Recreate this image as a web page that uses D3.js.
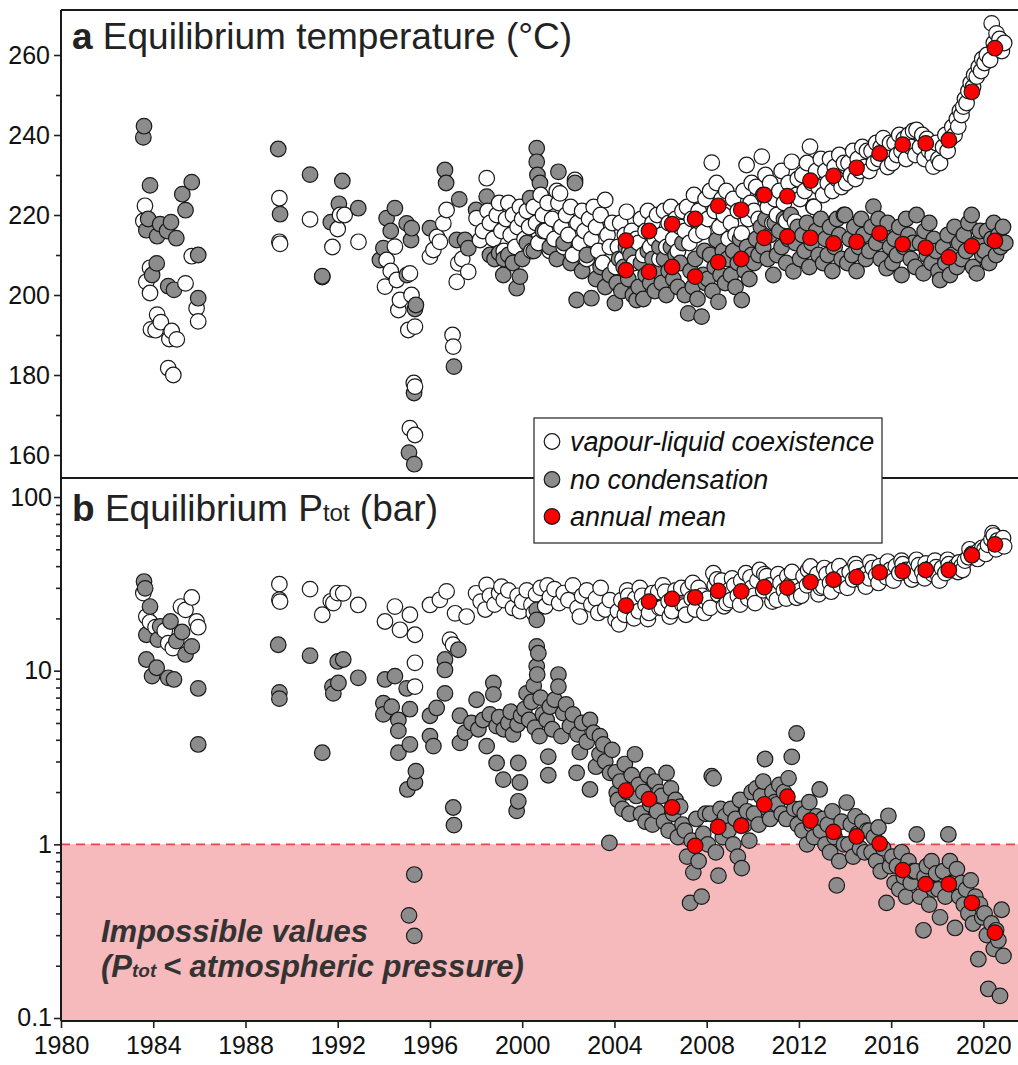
<!DOCTYPE html>
<html>
<head>
<meta charset="utf-8">
<script src="https://cdn.jsdelivr.net/npm/d3@7"></script>
<style>
    body { margin: 0; background: #fff; }
    svg { display: block; font-family: "Liberation Sans", Arial, sans-serif; }
    .axis path, .axis line { stroke: #222; }
    .axis text { fill: #111; font-size: 25px; font-family: "Liberation Sans", Arial, sans-serif; }
</style>
</head>
<body>
<svg id="chart" width="1018" height="1065"></svg>
<script>
// Panel a: equilibrium temperature (deg C), [decimal year, value]
var tempVap = [
    [1983.64,222.3],[1983.57,218.5],[1983.86,206.8],[1983.7,203.3],[1983.86,200.5],[1985.4,202.9],[1985.67,209.7],
    [1985.88,196.7],[1985.95,193.4],[1984.17,195.1],[1984.33,193.2],[1983.9,191.4],[1984.1,191.2],[1984.8,191],
    [1984.7,189],[1985.02,188.9],[1984.65,181.7],[1984.87,180.0],
    [1989.47,224.2],[1989.47,213.3],[1989.5,212.8],[1990.8,218.9],[1991.77,212],[1992.0,216.5],[1992.1,220],
    [1991.33,204.5],[1992.3,220],[1992.9,213.3],
    [1994.48,212.1],[1994.12,208.75],[1995.13,205.4],[1994.56,203.75],[1994.05,202.1],[1994.7,198.75],[1994.63,196.25],
    [1995.35,192.1],[1995.06,191.25],[1995.35,177.1],[1995.3,178],[1995.13,166.7],[1995.35,165],[1996.98,190],
    [1997.01,187.1],[1996.43,213.3],[1996.15,211.25],[1996.0,209.6],[1996.72,221.25],[1996.58,217.9],[1997.23,207.9],
    [1997.66,205.8],[1997.16,203.3],[1997.4,209],[1996.3,214.5],[1994.3,206],[1995.2,200],
    [1998.02,219.2],[1998.17,213.75],[1998.46,229.2],[1998.3,216],[1998.5,221],[1998.6,218],[1998.75,214],[1998.9,220],
    [1999.0,223],[1999.1,216],[1999.2,211],[1999.3,219],[1999.4,223],[1999.5,215],[1999.6,220],[1999.7,212],[1999.8,217],
    [1999.9,222],[2000.0,219],[2000.1,214],[2000.2,221],[2000.3,217],[2000.4,211],[2000.5,222],[2000.6,218],[2000.7,213],
    [2000.8,225],[2000.9,220],[2001.0,216],[2001.1,223],[2001.2,211],[2001.3,219],[2001.4,214],[2001.5,226],[2001.57,223],
    [2001.64,225.4],[2001.7,217],[2001.8,212],[2001.9,220],[2002.0,215],[2002.1,222],[2002.2,210],[2002.29,228.75],
    [2002.4,218],[2002.5,213],[2002.6,221],[2002.7,216],[2002.8,209],[2002.9,219],[2003.0,214],[2003.1,222],[2003.2,217],
    [2003.3,211],[2003.4,220],[2003.6,223.75],[2003.5,208],[2003.7,215],[2003.8,212],[2003.9,218],
    [2004.05,207],[2004.15,212],[2004.25,218],[2004.35,209],[2004.45,215],[2004.53,220.8],[2004.65,211],[2004.75,216],[2004.85,208],[2004.95,214],
    [2005.05,213],[2005.15,219],[2005.25,210],[2005.35,216],[2005.45,221],[2005.55,212],[2005.65,218],[2005.75,214],[2005.85,220],[2005.95,209],
    [2006.05,215],[2006.15,221],[2006.25,212],[2006.35,218],[2006.45,222],[2006.55,214],[2006.65,219],[2006.75,211],[2006.85,217],[2006.95,221],
    [2007.05,216],[2007.15,222],[2007.25,213],[2007.35,219],[2007.45,225],[2007.55,215],[2007.65,221],[2007.75,218],[2007.86,215.8],[2007.95,224],
    [2008.05,219],[2008.15,226],[2008.22,233.1],[2008.35,221],[2008.43,228],[2008.55,217],[2008.65,224],[2008.75,220],[2008.85,226],[2008.95,214],
    [2009.05,218],[2009.15,224],[2009.25,215],[2009.35,221],[2009.52,215.4],[2009.6,226],[2009.73,232.5],[2009.8,219],[2009.9,223],[2009.95,228],
    [2010.05,221],[2010.15,227],[2010.25,219],[2010.39,234.6],[2010.45,225],[2010.55,230],[2010.65,222],[2010.75,228],[2010.85,218],[2010.95,224],
    [2011.05,220],[2011.15,226],[2011.25,231],[2011.35,223],[2011.45,218.5],[2011.55,228],[2011.69,233.3],[2011.83,218.3],[2011.9,225],[2011.95,229],
    [2012.05,224],[2012.15,230],[2012.25,226],[2012.35,233],[2012.48,237.1],[2012.55,228],[2012.65,222],[2012.75,231],[2012.85,227],[2012.95,234],
    [2013.05,225],[2013.15,231],[2013.25,228],[2013.35,234],[2013.45,226],[2013.55,232],[2013.65,229],[2013.75,235],[2013.85,227],[2013.95,233],
    [2014.05,228],[2014.15,233],[2014.25,230],[2014.35,236],[2014.45,229],[2014.55,234],[2014.65,231],[2014.75,237],[2014.85,232],[2014.95,236],
    [2015.05,231],[2015.15,236],[2015.25,233],[2015.35,238],[2015.45,234],[2015.55,237],[2015.66,239.2],[2015.75,235],[2015.85,232],[2015.95,238],
    [2016.05,233],[2016.15,238],[2016.25,235],[2016.35,240],[2016.45,236],[2016.55,239],[2016.65,234],[2016.75,240],[2016.85,237],[2016.95,241],
    [2017.05,235],[2017.1,241.25],[2017.25,237],[2017.35,240],[2017.45,234],[2017.55,239],[2017.65,236],[2017.8,235],[2017.83,232.1],[2017.95,238],
    [2018.05,234],[2018.12,233],[2018.25,237],[2018.35,240],[2018.45,236],[2018.55,239],[2018.65,242],[2018.75,240],[2018.85,244],[2018.91,242.1],[2018.98,246],
    [2019.05,245],[2019.13,247.1],[2019.2,249],[2019.27,248],[2019.35,251],[2019.45,253],[2019.55,252],[2019.6,255],[2019.71,254.6],[2019.8,257],[2019.9,256],[2019.95,259],
    [2020.05,258],[2020.15,260],[2020.29,258.75],[2020.36,267.9],[2020.45,263],[2020.57,265.4],[2020.6,262],[2020.7,264],[2020.8,261],[2020.9,263]
];

var tempDry = [
    [1983.6,242.2],[1983.57,239.4],[1983.86,227.4],[1985.67,228.2],[1985.26,225.2],[1985.4,221.2],[1983.78,219],
    [1984.3,217.7],[1984.77,218.2],[1983.7,216.2],[1984.17,214.7],[1985.0,214.2],[1984.6,216],[1985.95,210],
    [1984.15,207.9],[1983.95,205],[1984.65,202.2],[1984.9,201.3],[1985.95,199.2],
    [1989.42,236.5],[1990.8,230.1],[1992.2,228.5],[1989.5,220.2],[1991.7,218.2],[1992.05,222.8],[1991.33,204.7],[1992.89,221.7],
    [1994.48,221.7],[1994.12,219.2],[1994.99,217.9],[1995.21,216.7],[1995.18,213.75],[1993.98,211.7],[1993.83,208.75],
    [1995.39,197.5],[1995.35,196.5],[1995.31,175.5],[1995.09,160.6],[1995.32,157.7],[1997.04,182.1],[1996.65,231.25],
    [1996.7,228],[1997.27,223.9],[1996.0,216.7],[1997.52,213.75],[1997.66,211.7],[1997.16,213.75],[1994.3,216],[1995.0,205],
    [1998.0,221.25],[1998.46,224.6],[1998.6,210],[1998.8,209],[1999.0,210.5],[1999.2,209],[1999.18,205],[1999.4,210],
    [1999.6,208],[1999.76,201.7],[1999.9,204.6],[2000.0,209],[2000.34,224.2],[2000.63,236.7],[2000.63,233.3],[2000.66,230],
    [2000.77,228],[2001.57,230.8],[2002.29,228],[2000.2,213],[2000.5,211],[2000.9,216],[2001.2,212],[2001.5,209],
    [2001.8,213],[2002.1,208],[2002.36,198.75],[2002.6,206],[2002.8,210],[2003.0,199.2],[2003.2,204],[2003.4,207],
    [2003.6,202],[2003.8,205],
    [2004.02,198],[2004.1,203],[2004.2,209],[2004.3,201],[2004.4,207],[2004.5,212],[2004.6,204],[2004.7,210],[2004.8,200],[2004.96,198.75],
    [2005.05,202],[2005.15,208],[2005.25,199],[2005.35,205],[2005.45,211],[2005.55,203],[2005.65,209],[2005.75,201],[2005.85,206],[2005.95,212],
    [2006.05,203],[2006.15,209],[2006.25,200],[2006.35,206],[2006.45,212],[2006.55,204],[2006.65,210],[2006.75,202],[2006.85,208],[2006.95,213],
    [2007.05,200],[2007.2,195.4],[2007.3,206],[2007.4,202],[2007.5,209],[2007.6,199],[2007.78,194.6],[2007.85,205],[2007.9,211],[2007.95,203],
    [2008.05,204],[2008.15,210],[2008.25,201],[2008.35,207],[2008.43,213.75],[2008.51,198.3],[2008.6,205],[2008.7,211],[2008.8,203],[2008.9,209],
    [2009.05,205],[2009.15,211],[2009.25,202],[2009.35,208],[2009.45,214],[2009.52,198.75],[2009.65,206],[2009.75,212],[2009.85,204],[2009.95,210],
    [2010.05,208],[2010.15,214],[2010.25,210],[2010.35,217],[2010.45,212],[2010.55,219],[2010.65,209],[2010.75,215],[2010.89,205],[2010.95,218],
    [2011.05,210],[2011.15,216],[2011.25,212],[2011.35,219],[2011.45,208],[2011.55,214],[2011.65,220],[2011.76,205.9],[2011.85,213],[2011.95,217],
    [2012.05,209],[2012.15,215],[2012.25,211],[2012.35,218],[2012.45,207],[2012.55,213],[2012.62,222.1],[2012.75,216],[2012.85,210],[2012.95,219],
    [2013.05,208],[2013.15,214],[2013.25,210],[2013.35,217],[2013.45,206],[2013.55,212],[2013.65,219],[2013.75,215],[2013.85,209],[2013.95,220],
    [2014.0,220],[2014.1,208],[2014.2,214],[2014.3,210],[2014.4,217],[2014.5,206],[2014.6,212],[2014.7,219],[2014.8,215],[2014.9,209],
    [2015.05,211],[2015.15,217],[2015.23,222.1],[2015.35,213],[2015.45,219],[2015.55,209],[2015.65,215],[2015.8,206.7],[2015.85,218],[2015.95,212],
    [2016.05,208],[2016.15,214],[2016.25,210],[2016.35,217],[2016.45,205],[2016.55,212],[2016.65,219],[2016.75,215],[2016.85,209],[2016.95,213],
    [2017.05,207],[2017.1,220],[2017.25,213],[2017.4,205.4],[2017.45,216],[2017.55,210],[2017.65,218],[2017.75,208],[2017.85,214],[2017.95,211],
    [2018.05,206],[2018.12,203.75],[2018.25,212],[2018.35,208],[2018.45,215],[2018.55,205],[2018.65,210],[2018.75,217],[2018.85,207],[2018.95,213],
    [2019.05,209],[2019.15,215],[2019.25,211],[2019.35,218],[2019.49,220],[2019.55,207],[2019.71,205.4],[2019.75,213],[2019.85,216],[2019.95,210],
    [2020.05,211],[2020.15,216],[2020.25,208],[2020.35,214],[2020.45,218],[2020.55,210],[2020.65,215],[2020.75,212],[2020.85,217],[2020.95,213]
];

// Panel b: equilibrium total pressure (bar)
var presVap = [
    [1983.57,28],[1983.7,20.5],[1983.86,19],[1984.5,17],[1984.65,14.4],[1984.85,13.5],[1985.2,23.4],[1985.4,22.4],
    [1985.67,26.4],[1985.88,19.2],[1985.95,17.8],[1984.1,17.8],
    [1989.47,31.5],[1989.47,25.6],[1989.5,25],[1990.8,29.5],[1991.33,21],[1991.7,25.1],[1992.0,28],[1992.24,27.9],
    [1991.81,24.5],[1992.89,23.9],
    [1994.05,19.2],[1994.48,23.4],[1994.7,17.2],[1995.13,21],[1995.35,16.1],[1995.35,11.1],[1995.35,8.1],
    [1996.0,23.9],[1996.43,25.6],[1996.72,28.6],[1997.09,21.4],[1997.59,20.5],[1996.87,15.1],[1997.0,14.1],
    [1998.0,27.9],[1998.2,25],[1998.46,31.2],[1998.6,27],[1998.8,24],[1999.0,28],[1999.2,25.5],[1999.4,29],[1999.6,23],
    [1999.8,27],[2000.0,25],[2000.2,29],[2000.4,24],[2000.6,27.5],[2000.8,30],[2001.0,23.5],[2001.2,26.5],[2001.4,29.5],
    [2001.6,24.5],[2001.8,28],[2002.0,25.5],[2002.2,31],[2002.4,23],[2002.6,27],[2002.8,29],[2003.0,24],[2003.2,26],
    [2003.4,30],[2003.6,22.5],[2003.8,25.5],[1998.4,22.5],[1999.1,30.5],[1999.9,22],[2000.5,21.5],[2001.1,31],
    [2002.5,20.5],[2003.3,21.5],
    [2004.05,19.6],[2004.15,22],[2004.3,25.5],[2004.45,21],[2004.6,27],[2004.75,23],[2004.9,26],
    [2004.2,18.5],[2004.55,29],[2004.85,20],
    [2005.05,22],[2005.2,27],[2005.35,24],[2005.5,21.5],[2005.65,28],[2005.8,25.5],[2005.95,23],
    [2005.1,30],[2005.45,19.8],[2005.9,28.5],
    [2006.05,23],[2006.2,28.5],[2006.35,25],[2006.5,22],[2006.65,29],[2006.8,26.5],[2006.95,24],
    [2006.1,31],[2006.4,20.5],[2006.9,30],
    [2007.05,23.5],[2007.2,29.5],[2007.35,26],[2007.5,22.5],[2007.65,30],[2007.8,27],[2007.95,25],
    [2007.1,21],[2007.4,32],[2007.9,21.5],
    [2008.05,26],[2008.29,36.4],[2008.35,31],[2008.5,27.5],[2008.65,33],[2008.87,24.5],[2008.95,29],
    [2008.15,23],[2008.45,33.5],[2008.75,23.5],
    [2009.05,25.5],[2009.2,31],[2009.35,27],[2009.5,33],[2009.7,36.4],[2009.8,26],[2009.95,30],
    [2009.1,34],[2009.45,24],[2009.9,34.5],
    [2010.05,27],[2010.2,33],[2010.3,38],[2010.45,29],[2010.6,35],[2010.75,31],[2010.9,27.5],
    [2010.1,24.5],[2010.5,36],[2010.85,25],
    [2011.04,25.6],[2011.2,32],[2011.35,29],[2011.5,35],[2011.65,31.5],[2011.8,28],[2011.9,26.3],
    [2011.1,36],[2011.45,26],[2011.7,37],
    [2012.05,29],[2012.2,35],[2012.35,31],[2012.5,39.8],[2012.65,33],[2012.8,36],[2012.95,30],
    [2012.1,27],[2012.4,38],[2012.85,27.5],
    [2013.05,30.5],[2013.2,36],[2013.35,32],[2013.5,38],[2013.65,34],[2013.8,31],[2013.95,35.5],
    [2013.1,39],[2013.4,28.5],[2013.75,40],
    [2014.05,32],[2014.2,37],[2014.35,33.5],[2014.5,39],[2014.65,35],[2014.8,32.5],[2014.95,36.5],
    [2014.1,30],[2014.45,41],[2014.9,30.5],
    [2015.05,34],[2015.2,39],[2015.35,35.5],[2015.5,40],[2015.65,37],[2015.8,34.5],[2015.95,38],
    [2015.1,42],[2015.45,32],[2015.85,42.5],
    [2016.05,35],[2016.2,40],[2016.35,36.5],[2016.5,41],[2016.65,38],[2016.8,35.5],[2016.95,39],
    [2016.1,33],[2016.45,43],[2016.9,33.5],
    [2017.05,35.5],[2017.2,40.5],[2017.35,37],[2017.5,41.5],[2017.65,38.5],[2017.8,36],[2017.95,39.5],
    [2017.1,43.5],[2017.45,34],[2017.9,43],
    [2018.05,35],[2018.2,39],[2018.35,36.5],[2018.5,41],[2018.65,38],[2018.8,40],[2018.95,42],
    [2018.1,33],[2018.45,43.5],[2018.9,37],
    [2019.05,40],[2019.2,43],[2019.35,45],[2019.5,47],[2019.65,46],[2019.8,49],[2019.95,51],
    [2019.1,38],[2019.4,50],[2019.75,44],
    [2020.05,50],[2020.2,53],[2020.35,57],[2020.45,60],[2020.6,56],[2020.75,55],[2020.9,52],
    [2020.1,47],[2020.4,62],[2020.55,50],[2020.85,58]
];

var presDry = [
    [1983.6,32.6],[1983.65,29.8],[1983.86,23.4],[1983.7,16.1],[1984.2,15.1],[1984.3,18],[1984.75,19.2],[1985.25,16.7],
    [1985.0,14.8],[1985.67,13.8],[1985.4,12.4],[1983.7,11.6],[1984.15,10.4],[1983.95,9.3],[1984.65,9.1],[1984.9,8.9],
    [1985.95,7.9],[1985.95,3.76],
    [1989.42,14.1],[1990.8,12.2],[1989.47,7.5],[1989.47,6.9],[1991.33,3.37],[1991.77,8.1],[1992.0,11.3],
    [1992.24,11.6],[1992.03,8.5],[1992.89,9.1],[1991.81,7.4],
    [1994.05,8.9],[1994.48,9.3],[1994.99,7.9],[1993.98,6.5],[1993.98,5.6],[1994.34,6.2],[1994.63,5.2],[1994.63,4.5],
    [1995.13,6.0],[1995.13,3.76],[1994.63,3.37],[1995.39,2.64],[1995.35,2.27],[1995.02,2.07],[1995.32,0.67],
    [1995.09,0.39],[1995.32,0.297],[1996.65,11.6],[1997.23,13.2],[1996.65,10.1],[1996.65,7.4],[1996.0,5.5],
    [1996.15,3.68],[1996.0,4.2],[1996.29,6.1],[1997.3,5.5],[1997.52,4.4],[1997.3,3.84],[1997.01,1.63],[1997.04,1.29],
    [1998.02,6.8],[1998.75,8.5],[1998.75,7.3],[1998.3,5.2],[1998.89,4.8],[1998.46,3.68],[1998.89,2.94],[1999.18,2.36],
    [1999.83,2.94],[1999.9,2.27],[1999.83,1.77],[1999.76,1.56],[1999.0,5.4],[1999.2,4.6],[1999.4,5.0],[1999.6,4.3],
    [1999.5,5.8],[1999.8,4.9],[1999.95,5.5],[1998.6,5.6],[1998.1,4.6],[1997.8,5.0],
    [2000.63,22.4],[2000.63,19.6],[2000.63,13.8],[2000.7,12.6],[2000.63,10.6],[2000.65,9.5],[2000.19,7.4],
    [2000.1,6.0],[2000.3,5.2],[2000.4,6.6],[2000.5,8.2],[2000.8,7.0],[2000.9,5.6],[2000.55,4.7],[2000.75,4.2],
    [2001.57,9.5],[2001.57,8.1],[2001.2,6.2],[2001.06,5.2],[2001.13,3.2],[2001.13,2.5],[2001.78,5.7],[2001.4,6.8],
    [2001.3,4.6],[2001.7,4.2],[2001.9,6.4],[2002.07,4.8],[2002.2,5.6],[2002.4,4.3],[2002.6,5.0],[2002.94,5.2],
    [2002.8,3.9],[2002.5,3.4],[2003.52,3.76],[2002.36,2.58],[2002.94,2.07],[2003.2,2.8],[2003.81,2.58],
    [2003.78,1.02],[2004.1,1.98],[2003.1,4.4],[2003.35,3.3],[2003.6,3.0],[2003.9,3.5],[2003.37,4.2],
    [2004.05,2.6],[2004.15,1.8],[2004.25,2.3],[2004.35,1.6],[2004.45,2.9],[2004.55,2.0],[2004.65,1.5],[2004.75,2.5],[2004.89,3.3],[2004.95,1.9],
    [2005.05,2.2],[2005.15,1.5],[2005.25,2.0],[2005.35,1.35],[2005.45,2.5],[2005.55,1.7],[2005.65,1.3],[2005.75,2.3],[2005.85,1.55],[2005.95,2.0],
    [2006.05,1.9],[2006.15,1.35],[2006.26,2.58],[2006.35,1.2],[2006.45,2.1],[2006.55,1.5],[2006.65,1.8],[2006.75,1.1],[2006.85,1.65],[2006.95,1.3],
    [2007.05,1.2],[2007.15,0.85],[2007.28,0.46],[2007.35,1.05],[2007.42,0.69],[2007.55,1.4],[2007.65,0.8],[2007.78,0.5],[2007.85,1.15],[2007.95,1.5],
    [2008.05,1.0],[2008.15,1.5],[2008.22,2.47],[2008.3,2.4],[2008.4,0.9],[2008.51,0.66],[2008.6,1.6],[2008.7,1.1],[2008.8,1.45],[2008.95,1.2],
    [2009.05,1.6],[2009.15,1.0],[2009.25,1.4],[2009.35,0.85],[2009.45,1.8],[2009.52,0.73],[2009.65,1.3],[2009.75,1.55],[2009.85,1.05],[2009.95,2.0],
    [2010.05,1.5],[2010.15,2.1],[2010.25,1.3],[2010.35,1.9],[2010.45,2.3],[2010.53,3.1],[2010.65,1.6],[2010.75,1.4],[2010.85,2.0],[2010.95,1.75],
    [2011.05,1.7],[2011.15,2.2],[2011.25,1.5],[2011.35,2.0],[2011.45,1.4],[2011.55,2.4],[2011.69,3.19],[2011.8,1.6],[2011.9,4.35],[2011.95,1.3],
    [2012.05,1.6],[2012.15,1.2],[2012.25,1.5],[2012.35,1.0],[2012.45,1.75],[2012.55,1.3],[2012.65,1.1],[2012.75,1.45],[2012.9,2.07],[2012.95,1.2],
    [2013.05,1.4],[2013.15,1.0],[2013.25,1.3],[2013.35,0.9],[2013.45,1.55],[2013.55,1.1],[2013.64,0.58],[2013.75,0.8],[2013.85,1.35],[2013.95,1.0],
    [2014.07,1.74],[2014.15,1.0],[2014.25,1.3],[2014.35,0.85],[2014.45,1.45],[2014.55,1.15],[2014.65,0.95],[2014.75,1.35],[2014.85,0.9],[2014.95,1.2],
    [2015.05,1.2],[2015.15,0.9],[2015.25,1.1],[2015.35,0.8],[2015.45,1.25],[2015.55,0.7],[2015.65,0.95],[2015.8,0.46],[2015.88,1.46],[2015.95,0.75],
    [2016.05,0.85],[2016.15,0.6],[2016.25,0.75],[2016.35,0.55],[2016.45,0.9],[2016.55,0.65],[2016.65,0.5],[2016.75,0.8],[2016.85,0.6],[2016.95,0.7],
    [2017.05,0.7],[2017.11,1.14],[2017.25,0.5],[2017.4,0.32],[2017.45,0.65],[2017.55,0.75],[2017.65,0.45],[2017.75,0.8],[2017.85,0.55],[2017.95,0.68],
    [2018.05,0.55],[2018.12,0.38],[2018.25,0.7],[2018.35,0.5],[2018.48,1.14],[2018.55,0.8],[2018.65,0.6],[2018.77,0.33],[2018.85,0.72],[2018.95,0.5],
    [2019.05,0.6],[2019.15,0.45],[2019.25,0.55],[2019.35,0.4],[2019.45,0.62],[2019.55,0.35],[2019.65,0.5],[2019.78,0.218],[2019.85,0.45],[2019.95,0.38],
    [2020.05,0.4],[2020.15,0.3],[2020.21,0.147],[2020.35,0.35],[2020.45,0.25],[2020.55,0.32],[2020.65,0.28],[2020.72,0.134],[2020.79,0.42],[2020.87,0.228]
];

// Annual means, plotted mid-year
var meanYears = [2004.5,2005.5,2006.5,2007.5,2008.5,2009.5,2010.5,2011.5,2012.5,2013.5,2014.5,2015.5,2016.5,2017.5,2018.5,2019.5,2020.5];
var meanTempVap = [213.6,216.0,217.7,219.0,222.3,221.3,225.0,224.7,228.6,229.8,231.8,235.4,237.6,237.9,238.7,250.8,261.7];
var meanTempDry = [206.2,205.8,207.0,204.6,208.2,209.0,214.3,214.6,214.3,212.9,213.3,215.4,212.7,211.8,209.4,212.2,213.5];
var meanPresVap = [23.7,25.0,25.9,26.4,28.8,28.6,30.3,30.1,32.4,33.4,34.6,36.8,37.4,38.0,38.0,46.2,53.4];
var meanPresDry = [2.04,1.82,1.63,0.98,1.26,1.28,1.70,1.88,1.37,1.18,1.11,1.01,0.71,0.59,0.59,0.46,0.31];

var xTicks = [1980,1984,1988,1992,1996,2000,2004,2008,2012,2016,2020];
var tempTicks = [160,180,200,220,240,260];
var tempMinor = [170,190,210,230,250];
var presTicks = [0.1,1,10,100];

var legendItems = [
    { label: "vapour-liquid coexistence", kind: "vap" },
    { label: "no condensation", kind: "dry" },
    { label: "annual mean", kind: "mean" }
];

var fills = { vap: "#ffffff", dry: "#8c8c8c", mean: "#ff0000" };
var R = 7.8;

var svg = d3.select("#chart");
var plotLeft = 61, plotRight = 1018, plotTop = 10, plotMid = 478, plotBottom = 1021;

var x = d3.scaleLinear().domain([1980, 2021.5]).range([plotLeft, plotRight]);
var yT = d3.scaleLinear().domain([154.25, 271.25]).range([plotMid, plotTop]);
var yP = d3.scaleLog().domain([0.0961, 128.7]).range([plotBottom, plotMid]);

var defs = svg.append("defs");
defs.append("clipPath").attr("id", "clip-a")
    .append("rect").attr("x", plotLeft).attr("y", plotTop).attr("width", plotRight - plotLeft).attr("height", plotMid - plotTop);
defs.append("clipPath").attr("id", "clip-b")
    .append("rect").attr("x", plotLeft).attr("y", plotMid).attr("width", plotRight - plotLeft).attr("height", plotBottom - plotMid);

// Impossible region (Ptot < 1 bar)
svg.append("rect")
    .attr("x", plotLeft)
    .attr("y", yP(1))
    .attr("width", plotRight - plotLeft)
    .attr("height", plotBottom - yP(1))
    .style("fill", "#f6b9bc");

svg.append("line")
    .attr("x1", plotLeft).attr("x2", plotRight)
    .attr("y1", yP(1)).attr("y2", yP(1))
    .style("stroke", "#e8434e")
    .style("stroke-width", 1.6)
    .style("stroke-dasharray", "9,6");

svg.append("text")
    .attr("x", 101)
    .attr("y", 942)
    .style("font-size", "31px")
    .style("font-weight", "bold")
    .style("font-style", "italic")
    .style("fill", "#333")
    .text("Impossible values");
var imp2 = svg.append("text")
    .attr("x", 101)
    .attr("y", 977)
    .style("font-size", "31px")
    .style("font-weight", "bold")
    .style("font-style", "italic")
    .style("fill", "#333");
imp2.append("tspan").text("(P");
imp2.append("tspan").style("font-size", "19px").text("tot");
imp2.append("tspan").attr("dx", -2).text(" < atmospheric pressure)");

// Merge both statuses in time order so overlaps look like the original
function merged(vap, dry) {
    return vap.map(function(d) { return [d[0], d[1], "vap"] })
        .concat(dry.map(function(d) { return [d[0], d[1], "dry"] }))
        .sort(function(a, b) { return a[0] - b[0] });
}

function drawPoints(clip, pts, y) {
    svg.append("g")
        .attr("clip-path", "url(#" + clip + ")")
        .selectAll("circle")
        .data(pts)
        .enter()
        .append("circle")
            .attr("cx", function(d) { return x(d[0]) })
            .attr("cy", function(d) { return y(d[1]) })
            .attr("r", R)
            .style("fill", function(d) { return fills[d[2]] })
            .style("stroke", "#1a1a1a")
            .style("stroke-width", 1.2);
}

function drawMeans(clip, values, y) {
    svg.append("g")
        .attr("clip-path", "url(#" + clip + ")")
        .selectAll("circle")
        .data(values)
        .enter()
        .append("circle")
            .attr("cx", function(d, i) { return x(meanYears[i]) })
            .attr("cy", function(d) { return y(d) })
            .attr("r", R)
            .style("fill", fills.mean)
            .style("stroke", "#1a1a1a")
            .style("stroke-width", 1.2);
}

drawPoints("clip-a", merged(tempVap, tempDry), yT);
drawMeans("clip-a", meanTempVap, yT);
drawMeans("clip-a", meanTempDry, yT);

drawPoints("clip-b", merged(presVap, presDry), yP);
drawMeans("clip-b", meanPresVap, yP);
drawMeans("clip-b", meanPresDry, yP);

// Axes
svg.append("g")
    .attr("class", "axis")
    .attr("transform", "translate(" + plotLeft + ",0)")
    .call(d3.axisLeft(yT).tickValues(tempMinor).tickSize(5).tickFormat(""))
    .call(function(g) { g.select(".domain").remove() });

svg.append("g")
    .attr("class", "axis")
    .attr("transform", "translate(" + plotLeft + ",0)")
    .call(d3.axisLeft(yT).tickValues(tempTicks).tickSize(7).tickPadding(4).tickFormat(d3.format("d")))
    .call(function(g) { g.select(".domain").remove() });

var presMinor = yP.ticks().filter(function(v) { return presTicks.indexOf(v) < 0 });
svg.append("g")
    .attr("class", "axis")
    .attr("transform", "translate(" + plotLeft + ",0)")
    .call(d3.axisLeft(yP).tickValues(presMinor).tickSize(5).tickFormat(""))
    .call(function(g) { g.select(".domain").remove() });

svg.append("g")
    .attr("class", "axis")
    .attr("transform", "translate(" + plotLeft + ",0)")
    .call(d3.axisLeft(yP).tickValues(presTicks).tickSize(7).tickPadding(2).tickFormat(function(d) { return d < 1 ? "0.1" : d3.format("d")(d) }))
    .call(function(g) { g.select(".domain").remove() });

svg.append("g")
    .attr("class", "axis")
    .attr("transform", "translate(0," + plotBottom + ")")
    .call(d3.axisBottom(x).tickValues(xTicks).tickSize(7).tickPadding(8).tickFormat(d3.format("d")))
    .call(function(g) { g.select(".domain").remove() });

svg.selectAll(".axis line").style("stroke-width", 1.6);

// Frame lines
var frame = [
    [plotLeft, plotTop, plotRight, plotTop],
    [plotLeft, plotMid, plotRight, plotMid],
    [plotLeft, plotBottom, plotRight, plotBottom],
    [plotLeft, plotTop, plotLeft, plotBottom]
];
svg.selectAll(".frame")
    .data(frame)
    .enter()
    .append("line")
        .attr("class", "frame")
        .attr("x1", function(d) { return d[0] })
        .attr("y1", function(d) { return d[1] })
        .attr("x2", function(d) { return d[2] })
        .attr("y2", function(d) { return d[3] })
        .style("stroke", "#1a1a1a")
        .style("stroke-width", 2);

// Panel titles
var titleA = svg.append("text")
    .attr("x", 72)
    .attr("y", 49)
    .style("font-size", "37px")
    .style("fill", "#222");
titleA.append("tspan").style("font-weight", "bold").text("a");
titleA.append("tspan").text(" Equilibrium temperature (°C)");

var titleB = svg.append("text")
    .attr("x", 72)
    .attr("y", 521)
    .style("font-size", "37px")
    .style("fill", "#222");
titleB.append("tspan").style("font-weight", "bold").text("b");
titleB.append("tspan").text(" Equilibrium P");
titleB.append("tspan").style("font-size", "24px").text("tot");
titleB.append("tspan").text(" (bar)");

// Legend
var legend = svg.append("g").attr("transform", "translate(534,418)");
legend.append("rect")
    .attr("width", 348)
    .attr("height", 125)
    .style("fill", "#fff")
    .style("stroke", "#333")
    .style("stroke-width", 1.3);

var items = legend.selectAll(".legend-item")
    .data(legendItems)
    .enter()
    .append("g")
        .attr("transform", function(d, i) { return "translate(0," + [23.5, 61.5, 98.5][i] + ")" });

items.append("circle")
    .attr("cx", 18)
    .attr("r", R)
    .style("fill", function(d) { return fills[d.kind] })
    .style("stroke", "#1a1a1a")
    .style("stroke-width", 1.2);

items.append("text")
    .attr("x", 36)
    .attr("y", 9)
    .style("font-size", "27px")
    .style("font-style", "italic")
    .style("fill", "#111")
    .text(function(d) { return d.label });
</script>
</body>
</html>
